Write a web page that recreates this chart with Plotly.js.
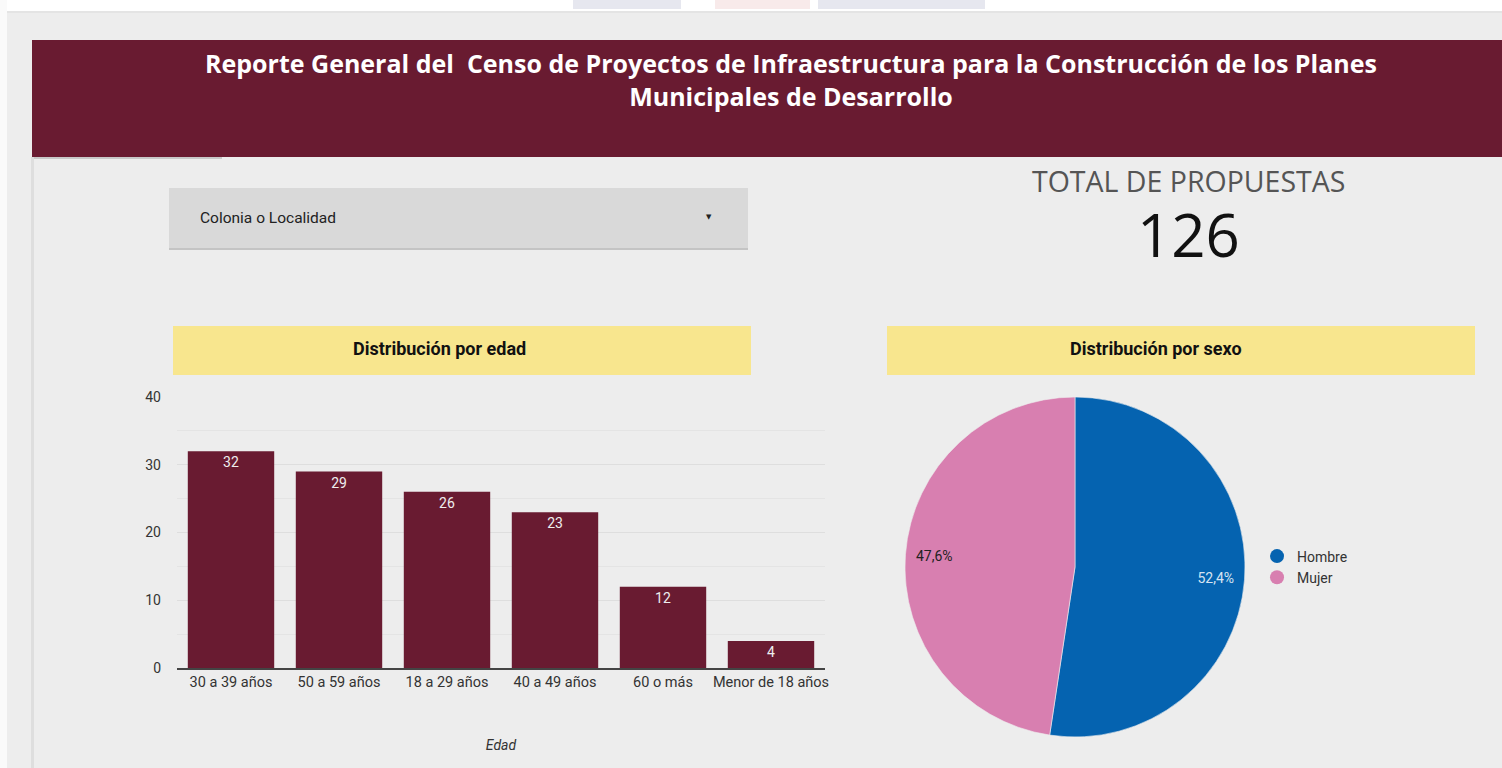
<!DOCTYPE html>
<html>
<head>
<meta charset="utf-8">
<script src="https://cdn.plot.ly/plotly-3.0.1.min.js"></script>
<style>
  html, body { margin: 0; padding: 0; background: #ffffff; }
  #chart { width: 1502px; height: 768px; }
</style>
</head>
<body>
<div id="chart"></div>
<script>
// ---- Data ----
const ageCategories = ["30 a 39 años", "50 a 59 años", "18 a 29 años", "40 a 49 años", "60 o más", "Menor de 18 años"];
const ageCounts = [32, 29, 26, 23, 12, 4];
const sexLabels = ["Hombre", "Mujer"];
const sexCounts = [66, 60];
const sexColors = ["#0563b0", "#d87fb0"];
const sexTextColors = ["#d6e3f2", "#222222"];
const totalLabel = "TOTAL DE PROPUESTAS";
const totalValue = 126;
const reportTitle = "Reporte General del  Censo de Proyectos de Infraestructura para la Construcción de los Planes<br>Municipales de Desarrollo";
const filterLabel = "Colonia o Localidad";
const ageTitle = "Distribución por edad";
const sexTitle = "Distribución por sexo";

// ---- Layout helpers (pixel -> paper) ----
const W = 1502, H = 768;
const px = x => x / W;
const py = y => 1 - y / H;
function rect(x0, y0, x1, y1, fill, extra) {
  return Object.assign({type: "rect", xref: "paper", yref: "paper", layer: "below",
    x0: px(x0), x1: px(x1), y0: py(y1), y1: py(y0), fillcolor: fill, line: {width: 0}}, extra || {});
}

const maroon = "#691b31";
const yellow = "#f8e68e";

const traces = [
  {
    type: "bar",
    x: ageCategories,
    y: ageCounts,
    marker: {color: maroon},
    texttemplate: "%{y}",
    textposition: "inside",
    insidetextanchor: "end",
    textfont: {family: "Roboto, sans-serif", size: 14, color: "#eeeeee"},
    hoverinfo: "x+y",
    showlegend: false,
    xaxis: "x", yaxis: "y"
  },
  {
    type: "pie",
    labels: sexLabels,
    values: sexCounts,
    marker: {colors: sexColors, line: {color: "#eeeeee", width: 0.6}},
    sort: false,
    direction: "clockwise",
    textinfo: "none",
    showlegend: false,
    domain: {x: [px(905), px(1245)], y: [py(737), py(397)]}
  },
  {
    type: "pie",
    labels: sexLabels,
    values: sexCounts,
    hole: 0.66,
    marker: {colors: ["rgba(0,0,0,0)", "rgba(0,0,0,0)"], line: {width: 0}},
    sort: false,
    direction: "clockwise",
    texttemplate: "%{percent:.1%}",
    textposition: "inside",
    insidetextorientation: "horizontal",
    textfont: {family: "Roboto, sans-serif", size: 14, color: sexTextColors},
    hoverinfo: "skip",
    showlegend: false,
    domain: {x: [px(905), px(1245)], y: [py(737), py(397)]}
  }
];
// legend entries with circle symbols
sexLabels.forEach((lab, i) => {
  traces.push({
    type: "scatter", mode: "markers", x: [null], y: [null], name: lab,
    marker: {color: sexColors[i], size: 14, symbol: "circle"},
    xaxis: "x2", yaxis: "y2", showlegend: true, hoverinfo: "skip"
  });
});

const layout = {
  width: W, height: H,
  margin: {l: 0, r: 0, t: 0, b: 0},
  paper_bgcolor: "#ededed",
  plot_bgcolor: "rgba(0,0,0,0)",
  separators: ",.",
  font: {family: "Roboto, 'Noto Sans', sans-serif", color: "#333"},
  bargap: 0.2,
  xaxis: {
    domain: [px(177), px(825)],
    anchor: "y",
    type: "category",
    showgrid: false,
    showline: true, linecolor: "#444", linewidth: 1.5,
    ticks: "",
    tickfont: {family: "Roboto, sans-serif", size: 14.5, color: "#333"},
    title: {text: "<i>Edad</i>", font: {family: "Roboto, sans-serif", size: 14, color: "#333"}, standoff: 50},
    fixedrange: true
  },
  yaxis: {
    domain: [py(668), py(397)],
    anchor: "x",
    range: [0, 40],
    dtick: 10,
    showgrid: true, gridcolor: "#dedede", gridwidth: 1,
    minor: {dtick: 5, showgrid: true, gridcolor: "#e4e4e4", gridwidth: 1},
    zeroline: false,
    ticks: "",
    ticklabelstandoff: 15,
    tickfont: {family: "Roboto, sans-serif", size: 14, color: "#333"},
    fixedrange: true
  },
  xaxis2: {domain: [0, 0.001], anchor: "y2", visible: false},
  yaxis2: {domain: [0, 0.001], anchor: "x2", visible: false},
  showlegend: true,
  legend: {
    x: px(1257), y: py(567), xanchor: "left", yanchor: "middle",
    bgcolor: "rgba(0,0,0,0)",
    font: {family: "Roboto, sans-serif", size: 14, color: "#333"},
    itemwidth: 30
  },
  shapes: [
    rect(0, 0, 1502, 12, "#ffffff"),
    rect(0, 0, 7, 768, "#fafafa"),
    rect(573, 0, 681, 9, "#e6e7ef"),
    rect(818, 0, 985, 9, "#e6e7ef"),
    rect(715, 0, 810, 9, "#f8eaea"),
    rect(7, 11, 1502, 13, "#e4e4e4"),
    rect(32, 40, 1502, 157, maroon),
    rect(32, 157, 222, 159, "#c9c9c9"),
    rect(31, 157, 34, 768, "#dedede"),
    rect(169, 248, 748, 250, "#c4c4c4"),
    rect(169, 188, 748, 248, "#d9d9d9"),
    rect(173, 326, 751, 375, yellow),
    rect(887, 326, 1475, 375, yellow)
  ],
  annotations: [
    {xref: "paper", yref: "paper", x: px(791), y: py(80), xanchor: "center", yanchor: "middle",
     text: "<b>" + reportTitle + "</b>", showarrow: false, align: "center",
     font: {family: "'Open Sans', sans-serif", size: 25, color: "#ffffff"}},
    {xref: "paper", yref: "paper", x: px(198), y: py(218), xanchor: "left", yanchor: "middle",
     text: filterLabel, showarrow: false,
     font: {family: "Roboto, sans-serif", size: 15.5, color: "#222"}},
    {xref: "paper", yref: "paper", x: px(709), y: py(217), xanchor: "center", yanchor: "middle",
     text: "▼", showarrow: false,
     font: {family: "DejaVu Sans, sans-serif", size: 7, color: "#222"}},
    {xref: "paper", yref: "paper", x: px(1188), y: py(181), xanchor: "center", yanchor: "middle",
     text: totalLabel, showarrow: false,
     font: {family: "'Open Sans', sans-serif", size: 28.5, color: "#555"}},
    {xref: "paper", yref: "paper", x: px(1188), y: py(234), xanchor: "center", yanchor: "middle",
     text: String(totalValue), showarrow: false,
     font: {family: "'Open Sans', sans-serif", size: 60, color: "#111"}},
    {xref: "paper", yref: "paper", x: px(439), y: py(349), xanchor: "center", yanchor: "middle",
     text: "<b>" + ageTitle + "</b>", showarrow: false,
     font: {family: "Roboto, sans-serif", size: 18, color: "#111"}},
    {xref: "paper", yref: "paper", x: px(1156), y: py(348), xanchor: "center", yanchor: "middle",
     text: "<b>" + sexTitle + "</b>", showarrow: false,
     font: {family: "Roboto, sans-serif", size: 18, color: "#111"}}
  ]
};

Plotly.newPlot("chart", traces, layout, {displayModeBar: false, staticPlot: false});
</script>
</body>
</html>
